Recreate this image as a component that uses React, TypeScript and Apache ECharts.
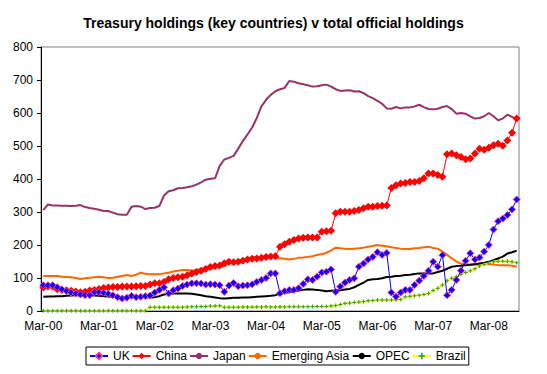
import React, { useEffect, useRef } from "react";
import * as echarts from "echarts";

const MONTHS = ["Jan", "Feb", "Mar", "Apr", "May", "Jun", "Jul", "Aug", "Sep", "Oct", "Nov", "Dec"];
const START_MONTH = 2; // March
const START_YEAR = 0; // 2000

const uk = [
  78, 78, 78, 72, 66, 60, 56, 53, 50, 48,
  48, 57, 57, 55, 52, 48, 42, 38, 40, 46,
  42, 43, 45, 47, 56, 64, 72, 53, 63, 68,
  76, 80, 84, 84, 83, 80, 81, 80, 78, 58,
  77, 85, 75, 77, 78, 81, 88, 94, 100, 114,
  114,
  54, 60, 64, 64, 69, 82, 96, 94, 104, 117, 119, 126,
  58, 74, 86, 94, 99, 134, 144, 156, 164, 178, 170, 176,
  56, 43, 56, 64, 64, 79, 92, 106, 122, 149, 134, 169,
  48, 64, 94, 122, 152, 175, 156, 162, 180, 200, 247, 272, 280, 291, 308, 338,
];

const china = [
  71, 74, 74, 66, 64, 63, 61, 59, 57, 58,
  62, 64, 67, 70, 71, 73, 73, 74, 74, 74,
  75, 76, 76, 80, 84, 84, 88, 96, 100, 102,
  104, 108, 114, 118, 122, 127, 133, 136, 138, 145,
  149, 148, 149, 152, 156, 158, 159, 161, 164, 165,
  166,
  195, 202, 210, 215, 220, 222, 223, 223, 223, 240, 242, 243,
  296, 301, 301, 301, 303, 306, 311, 316, 316, 318, 319, 320,
  373, 381, 386, 388, 391, 391, 394, 402, 417, 417, 412, 407,
  475, 477, 472, 467, 460, 462, 477, 492, 489, 495, 502, 507, 501, 517, 540, 583,
];

const japan = [
  306, 323, 320, 320, 319, 319, 318, 319, 321, 315,
  312, 310, 307, 303, 303, 298, 293, 292, 292, 316,
  318, 316, 309, 312, 313, 318, 350, 363, 366, 372,
  373, 375, 378, 383, 390, 398, 401, 402, 440, 459,
  464, 470, 492, 515, 535, 556, 585, 620, 640, 655,
  666, 672, 676, 697, 695, 690, 687, 684, 680, 681,
  684, 686, 680, 672, 667, 668, 669, 665, 666, 660,
  651, 645, 637, 628, 614, 613, 618, 614, 617, 617,
  620, 625, 618, 612, 611, 613, 618, 621, 612, 598,
  600, 598, 590, 583, 585, 590, 600, 590, 578, 583,
  595, 588, 580,
];

const emergingAsia = [
  106, 106, 106, 106, 104, 103, 102, 100, 97, 99,
  101, 102, 104, 102, 100, 101, 104, 106, 109, 106,
  110, 116, 113, 111, 111, 111, 114, 116, 120, 122,
  124, 124, 123, 124, 127, 130, 132, 131, 133, 136,
  145, 150, 152, 155, 160, 162, 163, 164, 163, 163,
  162, 160, 158, 156, 158, 161, 162, 164, 166, 170,
  173, 176, 184, 192, 190, 189, 188, 189, 190, 192,
  195, 197, 200, 198, 196, 193, 191, 189, 188, 188,
  190, 191, 193, 195, 191, 189, 180, 170, 160, 150,
  143, 142, 141, 141, 142, 142, 142, 141, 139, 139,
  139, 137, 134,
];

const opec = [
  43, 44, 44, 45, 45, 46, 47, 48, 48, 48,
  48, 47, 46, 45, 44, 43, 43, 42, 41, 42,
  43, 43, 42, 41, 42, 45, 50, 52, 53, 53,
  53, 53, 52, 50, 48, 45, 43, 41, 39, 38,
  39, 40, 40, 41, 41, 42, 43, 44, 45, 46,
  48, 52, 55, 57, 60, 62, 64, 66, 65, 64,
  62, 60, 61, 62, 63, 65, 67, 72, 79, 86,
  94, 96, 97, 99, 103, 104, 106, 107, 109, 110,
  112, 114, 114, 114, 114, 118, 122, 128, 134, 136,
  137, 139, 140, 142, 144, 146, 149, 154, 159, 165,
  174, 178, 183,
];

const brazil = [
  1, 1, 1, 1, 1, 1, 1, 1, 1, 1,
  1, 1, 1, 1, 1, 1, 1, 1, 1, 1,
  1, 1, 1, 11, 11, 11, 11, 11, 11, 11,
  11, 12, 13, 13, 14, 14, 15, 15, 16, 11,
  11, 11, 11, 12, 12, 12, 12, 12, 13, 12,
  12, 12, 12, 13, 13, 13, 13, 13, 14, 14,
  14, 14, 15, 17, 20, 23, 24, 26, 27, 29,
  31, 32, 33, 33, 33, 33, 34, 35, 43, 45,
  46, 48, 50, 53, 62, 69, 79, 92, 99, 104,
  111, 117, 122, 128, 136, 142, 145, 149, 151, 151,
  151, 149, 146,
];

const yTicks = { min: 0, max: 800, interval: 100 };

const categories: string[] = uk.map((_, k) => {
  const m = START_MONTH + k;
  const yr = START_YEAR + Math.floor(m / 12);
  return `${MONTHS[m % 12]}-${String(yr).padStart(2, "0")}`;
});

const FONT = 'Arial, "Liberation Sans", sans-serif';
const PLUS = "path://M3,0H5V3H8V5H5V8H3V5H0V3H3Z";

export default function App() {
  const ref = useRef<HTMLDivElement>(null);
  useEffect(() => {
    if (!ref.current) return;
    const chart = echarts.init(ref.current, null, { renderer: "svg" });
    chart.setOption({
      animation: false,
      backgroundColor: "#ffffff",
      textStyle: { fontFamily: FONT },
      title: {
        text: "Treasury holdings (key countries) v total official holdings",
        left: "center",
        top: 11,
        textStyle: { fontSize: 14, fontWeight: "bold", color: "#000", fontFamily: FONT },
      },
      grid: {
        left: 41,
        right: 28,
        top: 47,
        bottom: 63,
        show: true,
        borderColor: "#808080",
        borderWidth: 1,
      },
      legend: {
        left: 86,
        top: 347,
        itemWidth: 18,
        itemHeight: 8,
        itemGap: 2,
        padding: [3, 3],
        borderColor: "#000",
        borderWidth: 1,
        backgroundColor: "#fff",
        textStyle: { fontSize: 12, color: "#000", fontFamily: FONT },
        data: ["UK", "China", "Japan", "Emerging Asia", "OPEC", "Brazil"],
      },
      xAxis: {
        type: "category",
        data: categories,
        boundaryGap: true,
        axisLine: { lineStyle: { color: "#000", width: 1 } },
        axisTick: { interval: 11, length: 4, lineStyle: { color: "#000" } },
        axisLabel: { interval: 11, margin: 9, fontSize: 12, color: "#000", fontFamily: FONT },
        splitLine: { show: false },
      },
      yAxis: {
        type: "value",
        min: yTicks.min,
        max: yTicks.max,
        interval: yTicks.interval,
        axisLine: { show: true, lineStyle: { color: "#000", width: 1 } },
        axisTick: { show: true, length: 4, lineStyle: { color: "#000" } },
        axisLabel: { margin: 8, fontSize: 12, color: "#000", fontFamily: FONT },
        splitLine: { show: false },
      },
      series: [
        {
          name: "Japan",
          type: "line",
          data: japan,
          symbol: "none",
          lineStyle: { color: "#993366", width: 2 },
          itemStyle: { color: "#993366" },
          z: 2,
        },
        {
          name: "Emerging Asia",
          type: "line",
          data: emergingAsia,
          symbol: "none",
          lineStyle: { color: "#FF6600", width: 2 },
          itemStyle: { color: "#FF6600" },
          z: 2,
        },
        {
          name: "OPEC",
          type: "line",
          data: opec,
          symbol: "none",
          lineStyle: { color: "#000000", width: 2 },
          itemStyle: { color: "#000000" },
          z: 3,
        },
        {
          name: "Brazil",
          type: "line",
          data: brazil,
          symbol: PLUS,
          symbolSize: 4,
          showAllSymbol: true,
          lineStyle: { color: "#FFFF00", width: 2 },
          itemStyle: { color: "#2E9E2E" },
          z: 4,
        },
        {
          name: "China",
          type: "line",
          data: china,
          symbol: "diamond",
          symbolSize: 8,
          showAllSymbol: true,
          lineStyle: { color: "#FF0000", width: 1 },
          itemStyle: { color: "#FF0000" },
          z: 5,
        },
        {
          name: "UK",
          type: "line",
          data: uk,
          symbol: "diamond",
          symbolSize: 7,
          showAllSymbol: true,
          lineStyle: { color: "#0000FF", width: 1 },
          itemStyle: { color: "#0000FF", borderColor: "#FF3399", borderWidth: 1 },
          z: 6,
        },
      ],
    });
    return () => chart.dispose();
  }, []);
  return (
    <div
      ref={ref}
      style={{ position: "fixed", left: 0, top: 0, width: 547, height: 374, background: "#fff" }}
    />
  );
}
